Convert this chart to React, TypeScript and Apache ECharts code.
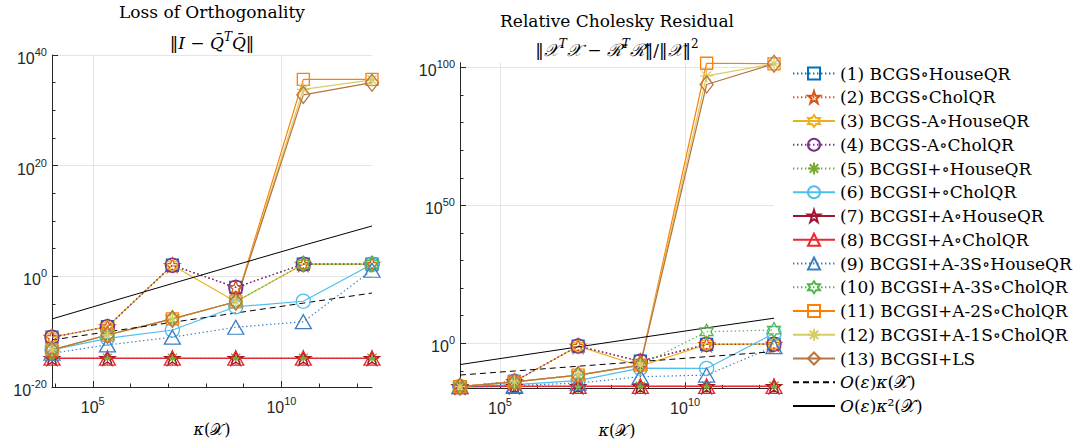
import React, { useEffect, useRef } from 'react';
import * as echarts from 'echarts';

// log10 of kappa(X) at the six test matrices
const kappaLog = [3.92, 5.39, 7.11, 8.79, 10.58, 12.4];

const NAMES = [
  '(1) BCGS∘HouseQR',
  '(2) BCGS∘CholQR',
  '(3) BCGS-A∘HouseQR',
  '(4) BCGS-A∘CholQR',
  '(5) BCGSI+∘HouseQR',
  '(6) BCGSI+∘CholQR',
  '(7) BCGSI+A∘HouseQR',
  '(8) BCGSI+A∘CholQR',
  '(9) BCGSI+A-3S∘HouseQR',
  '(10) BCGSI+A-3S∘CholQR',
  '(11) BCGSI+A-2S∘CholQR',
  '(12) BCGSI+A-1S∘CholQR',
  '(13) BCGSI+LS',
  'O(ε)κ(𝒳)',
  'O(ε)κ²(𝒳)',
];

// Loss of orthogonality, log10 values
const loo01 = [-11.0, -9.1, 2.0, -2.0, 2.2, 2.2];
const loo02 = [-11.0, -9.1, 2.0, -2.0, 2.2, 2.2];
const loo03 = [-11.0, -9.1, 2.0, -4.6, 2.2, 2.2];
const loo04 = [-11.0, -9.1, 2.0, -2.0, 2.2, 2.2];
const loo05 = [-14.8, -14.8, -14.8, -14.8, -14.8, -14.8];
const loo06 = [-13.3, -11.2, -9.7, -5.5, -4.5, 2.2];
const loo07 = [-14.8, -14.8, -14.8, -14.8, -14.8, -14.8];
const loo08 = [-14.8, -14.8, -14.8, -14.8, -14.8, -14.8];
const loo09 = [-13.9, -12.4, -11.0, -9.2, -8.2, 1.1];
const loo10 = [-13.3, -10.6, -7.7, -4.6, 2.2, 2.2];
const loo11 = [-13.3, -10.6, -7.7, -4.6, 35.6, 35.6];
const loo12 = [-13.3, -10.6, -7.7, -4.6, 33.8, 35.5];
const loo13 = [-13.3, -10.6, -7.7, -4.6, 32.8, 35.0];
const looEpsK = [-11.5, -10.03, -8.31, -6.63, -4.84, -3.02];
const looEpsK2 = [-7.7, -4.75, -1.3, 2.05, 5.6, 9.1];

// Relative Cholesky residual, log10 values
const res01 = [-15.7, -13.8, -1.0, -6.5, -0.4, -0.3];
const res02 = [-15.7, -13.8, -1.0, -6.5, -0.4, -0.3];
const res03 = [-15.7, -13.8, -1.0, -8.3, -0.4, -0.3];
const res04 = [-15.7, -13.8, -1.0, -6.5, -0.4, -0.3];
const res05 = [-15.7, -15.6, -15.6, -15.6, -15.6, -15.6];
const res06 = [-15.7, -15.0, -13.5, -9.0, -9.1, 3.6];
const res07 = [-15.7, -15.6, -15.6, -15.6, -15.6, -15.6];
const res08 = [-15.7, -15.6, -15.6, -15.6, -15.6, -15.6];
const res09 = [-15.7, -15.3, -14.4, -12.1, -11.5, -1.2];
const res10 = [-15.7, -14.0, -11.5, -7.9, 4.2, 4.8];
const res11 = [-15.7, -14.0, -11.5, -7.9, 101.5, 101.3];
const res12 = [-15.7, -14.0, -11.5, -7.9, 96.9, 101.3];
const res13 = [-15.7, -14.0, -11.5, -7.9, 93.8, 101.3];
const resEpsK = [-11.5, -10.03, -8.31, -6.63, -4.84, -3.02];
const resEpsK2 = [-7.7, -4.75, -1.3, 2.05, 5.6, 9.1];

// tick positions (log10)
const xMajor = [5, 10];
const xMinor = [4, 6, 7, 8, 9, 11, 12];
const yLooMajor = [-20, 0, 20, 40];
const yLooMinor = [-15, -10, -5, 5, 10, 15, 25, 30, 35];
const yResMajor = [0, 50, 100];
const yResMinor = [-10, 10, 20, 30, 40, 60, 70, 80, 90];

const LOO = [loo01, loo02, loo03, loo04, loo05, loo06, loo07, loo08, loo09, loo10, loo11, loo12, loo13, looEpsK, looEpsK2];
const RES = [res01, res02, res03, res04, res05, res06, res07, res08, res09, res10, res11, res12, res13, resEpsK, resEpsK2];

const PENTAGRAM = 'path://M0,-100L22.45,-30.9L95.1,-30.9L36.3,11.8L58.8,80.9L0,38.2L-58.8,80.9L-36.3,11.8L-95.1,-30.9L-22.45,-30.9Z';
const HEXAGRAM = 'path://M0,-100L28.9,-50L86.6,-50L57.7,0L86.6,50L28.9,50L0,100L-28.9,50L-86.6,50L-57.7,0L-86.6,-50L-28.9,-50Z';
const ASTERISK = 'path://M0,-100L0,100M-100,0L100,0M-70.7,-70.7L70.7,70.7M-70.7,70.7L70.7,-70.7';

const DOT = [1.4, 2.6];
const STYLES: any[] = [
  { color: '#0072BD', symbol: 'rect', size: 12, dash: DOT },
  { color: '#D95319', symbol: PENTAGRAM, size: 15, dash: DOT },
  { color: '#EDB120', symbol: HEXAGRAM, size: 15, dash: 'solid' },
  { color: '#7E2F8E', symbol: 'circle', size: 14, dash: DOT },
  { color: '#77AC30', symbol: ASTERISK, size: 13, dash: DOT },
  { color: '#4DBEEE', symbol: 'circle', size: 14, dash: 'solid' },
  { color: '#A2142F', symbol: PENTAGRAM, size: 15, dash: 'solid' },
  { color: '#F0262C', symbol: 'triangle', size: [16, 14], dash: 'solid' },
  { color: '#3C7EC0', symbol: 'triangle', size: [16, 14], dash: DOT },
  { color: '#4FB848', symbol: HEXAGRAM, size: 15, dash: DOT },
  { color: '#FF8000', symbol: 'rect', size: 12, dash: 'solid' },
  { color: '#D8CC66', symbol: ASTERISK, size: 13, dash: 'solid' },
  { color: '#B8733E', symbol: 'diamond', size: [13, 17], dash: 'solid' },
  { color: '#000000', symbol: 'none', size: 0, dash: [6, 4] },
  { color: '#000000', symbol: 'none', size: 0, dash: 'solid' },
];

const AX = '#262626';
const GRIDC = '#e5e5e5';
const SERIF = 'DejaVu Serif';

const tickRich = {
  b: { fontFamily: 'Liberation Sans', fontSize: 16, color: AX, lineHeight: 17, padding: [7, 0, 0, 0] },
  s: { fontFamily: 'Liberation Sans', fontSize: 11, color: AX, lineHeight: 12, verticalAlign: 'top' },
};
const powLabel = (v: number) => '{b|10}{s|' + Math.round(v) + '}';

function mainAxis(grid: number, min: number, max: number, major: number[], isX: boolean, withName: boolean) {
  const ax: any = {
    type: 'value',
    gridIndex: grid,
    min,
    max,
    position: isX ? 'bottom' : 'left',
    axisLine: { show: true, onZero: false, lineStyle: { color: AX, width: 1 } },
    axisTick: { show: true, inside: true, length: 6, customValues: major, lineStyle: { color: AX } },
    axisLabel: {
      show: true,
      customValues: major,
      formatter: powLabel,
      margin: isX ? 8 : 5,
      rich: tickRich,
    },
    splitLine: { show: true, lineStyle: { color: GRIDC, width: 1 } },
  };
  if (withName) {
    ax.name = '{i|κ}{n|(𝒳)}';
    ax.nameLocation = 'middle';
    ax.nameGap = 34;
    ax.nameTextStyle = {
      rich: {
        i: { fontFamily: SERIF, fontSize: 16, fontStyle: 'italic', color: '#000' },
        n: { fontFamily: SERIF, fontSize: 16, color: '#000' },
      },
    };
  }
  return ax;
}

function minorAxis(grid: number, min: number, max: number, minor: number[], isX: boolean) {
  return {
    type: 'value',
    gridIndex: grid,
    min,
    max,
    position: isX ? 'bottom' : 'left',
    axisLine: { show: false, onZero: false },
    axisTick: { show: true, inside: true, length: 3.5, customValues: minor, lineStyle: { color: AX } },
    axisLabel: { show: false },
    splitLine: { show: false },
  };
}

const titleFont = { fontFamily: SERIF, fontSize: 17, fontWeight: 'normal', color: '#000' };
const mathRich = {
  n: { fontFamily: SERIF, fontSize: 17, color: '#000', lineHeight: 18, padding: [6, 0, 0, 0] },
  i: { fontFamily: SERIF, fontSize: 17, fontStyle: 'italic', color: '#000', lineHeight: 18, padding: [6, 0, 0, 0] },
  sup: { fontFamily: SERIF, fontSize: 12, fontStyle: 'italic', color: '#000', lineHeight: 13, verticalAlign: 'top' },
  supn: { fontFamily: SERIF, fontSize: 12, color: '#000', lineHeight: 13, verticalAlign: 'top' },
};

export default function App() {
  const ref = useRef<HTMLDivElement>(null);
  useEffect(() => {
    if (!ref.current) return;
    const chart = echarts.init(ref.current, undefined, { renderer: 'svg' });
    const series: any[] = [];
    [LOO, RES].forEach((set, g) => {
      set.forEach((vals, i) => {
        const st = STYLES[i];
        const isRef = st.symbol === 'none';
        series.push({
          name: NAMES[i],
          type: 'line',
          xAxisIndex: g * 2,
          yAxisIndex: g * 2,
          data: vals.map((v, k) => [kappaLog[k], v]),
          symbol: st.symbol,
          symbolSize: st.size,
          symbolKeepAspect: true,
          showSymbol: !isRef,
          showAllSymbol: true,
          lineStyle: { color: st.color, width: isRef ? 1 : 1.2, type: st.dash },
          itemStyle: isRef
            ? { color: 'rgba(0,0,0,0)', borderColor: 'rgba(0,0,0,0)', borderWidth: 0 }
            : { color: 'rgba(0,0,0,0)', borderColor: st.color, borderWidth: 1.3 },
          emphasis: { disabled: true },
          silent: true,
        });
      });
    });

    chart.setOption({
      animation: false,
      backgroundColor: '#ffffff',
      title: [
        { text: 'Loss of Orthogonality', left: 212, top: 12, textAlign: 'center', textVerticalAlign: 'middle', padding: 0, textStyle: titleFont },
        {
          text: '{n|‖}{i|I}{n| − }{i|Q̄}{sup|T}{i|Q̄}{n|‖}',
          left: 212, top: 40, textAlign: 'center', textVerticalAlign: 'middle', padding: 0,
          textStyle: { ...titleFont, rich: mathRich },
        },
        { text: 'Relative Cholesky Residual', left: 617, top: 20.5, textAlign: 'center', textVerticalAlign: 'middle', padding: 0, textStyle: titleFont },
        {
          text: '{n|‖}{i|𝒳}{sup|T}{i|𝒳}{n| − }{i|ℛ̄}{sup|T}{i|ℛ̄}{n|‖/‖}{i|𝒳}{n|‖}{supn|2}',
          left: 617, top: 47, textAlign: 'center', textVerticalAlign: 'middle', padding: 0,
          textStyle: { ...titleFont, rich: mathRich },
        },
      ],
      grid: [
        { left: 52, top: 55, width: 320, height: 332, containLabel: false },
        { left: 460, top: 62.7, width: 314, height: 325.6, containLabel: false },
      ],
      xAxis: [
        mainAxis(0, 3.92, 12.4, xMajor, true, true),
        minorAxis(0, 3.92, 12.4, xMinor, true),
        mainAxis(1, 3.92, 12.4, xMajor, true, true),
        minorAxis(1, 3.92, 12.4, xMinor, true),
      ],
      yAxis: [
        mainAxis(0, -20, 40, yLooMajor, false, false),
        minorAxis(0, -20, 40, yLooMinor, false),
        mainAxis(1, -16.3, 101.7, yResMajor, false, false),
        minorAxis(1, -16.3, 101.7, yResMinor, false),
      ],
      legend: {
        orient: 'vertical',
        left: 787,
        top: 60,
        itemWidth: 42,
        itemHeight: 15,
        itemGap: 6.75,
        selectedMode: false,
        data: NAMES,
        formatter: (name: string) => {
          if (name === NAMES[13]) return '{i|O}{n|(}{i|ε}{n|)}{i|κ}{n|(𝒳)}';
          if (name === NAMES[14]) return '{i|O}{n|(}{i|ε}{n|)}{i|κ}{n|²(𝒳)}';
          return name;
        },
        textStyle: {
          fontFamily: SERIF,
          fontSize: 17,
          lineHeight: 17,
          color: '#000',
          rich: {
            i: { fontFamily: SERIF, fontSize: 17, lineHeight: 17, fontStyle: 'italic', color: '#000' },
            n: { fontFamily: SERIF, fontSize: 17, lineHeight: 17, color: '#000' },
          },
        },
      },
      series,
    });
    return () => chart.dispose();
  }, []);
  return <div ref={ref} style={{ position: 'fixed', left: 0, top: 0, width: 1075, height: 445, background: '#fff' }} />;
}
